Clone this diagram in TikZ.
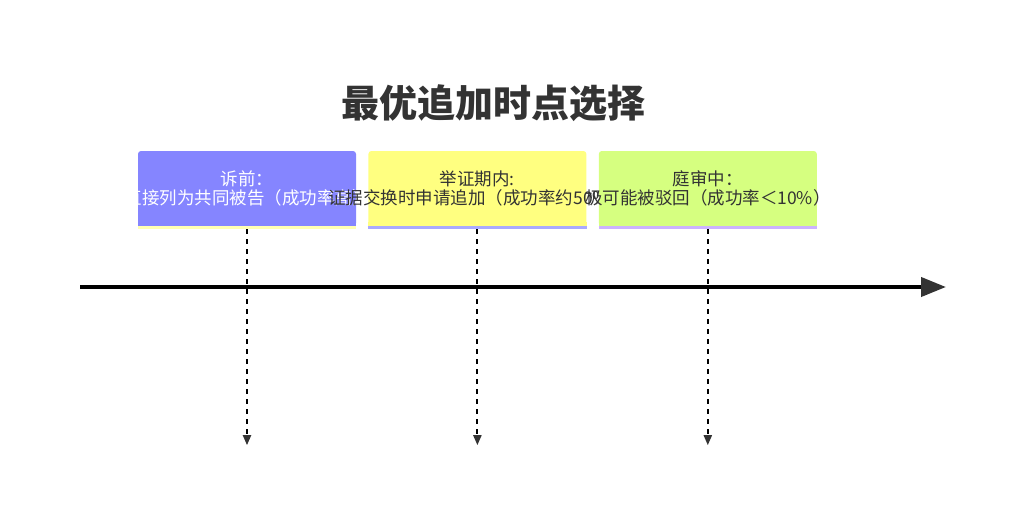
\documentclass[tikz,border=0pt]{standalone}
\usepackage{fontspec}
\setmainfont{Noto Sans CJK SC}
\usetikzlibrary{arrows.meta,positioning}
\definecolor{tlblue}{HTML}{8585FF}
\definecolor{tlyellow}{HTML}{FFFF80}
\definecolor{tlgreen}{HTML}{D6FF80}
\definecolor{tlstripeA}{HTML}{FFFFB3}
\definecolor{tlstripeB}{HTML}{AAAAFF}
\definecolor{tlstripeC}{HTML}{CCB3FF}
\definecolor{tldark}{HTML}{333333}
\tikzset{
  tl/box/.style={rectangle, rounded corners=3pt, minimum width=218pt, minimum height=75pt, inner sep=0pt, align=center, font=\fontsize{17.5}{19.5}\selectfont},
  tl/title/.style={font=\fontsize{38}{42}\selectfont\bfseries, text=tldark},
  tl/axis/.style={line width=4pt, -{Triangle[length=25pt,width=19pt,color=tldark]}},
  tl/drop/.style={line width=2pt, dash pattern=on 5pt off 5pt, -{Triangle[length=10pt,width=8pt,color=tldark]}}
}

\begin{document}
\begin{tikzpicture}[x=1pt, y=-1pt, node distance=12pt and 12pt]
  \useasboundingbox (0,0) rectangle (1024,525);

  % Title
  \node[tl/title] (title) at (493,103) {最优追加时点选择};

  % Stages
  \node[tl/box, fill=tlblue, text=white] (pre) at (247,188.5)
    {诉前：\\\makebox[0pt]{直接列为共同被告（成功率高）}};
  \node[tl/box, fill=tlyellow, text=tldark, right=of pre] (proof)
    {举证期内:\\\makebox[0pt]{证据交换时申请追加（成功率约50\%）}};
  \node[tl/box, fill=tlgreen, text=tldark, right=of proof] (trial)
    {庭审中：\\\makebox[0pt]{极可能被驳回（成功率＜10\%）}};

  \fill[tlblue] (pre.south west) rectangle ([yshift=4pt]pre.south east);
  \fill[tlyellow] (proof.south west) rectangle ([yshift=4pt]proof.south east);
  \fill[tlgreen] (trial.south west) rectangle ([yshift=4pt]trial.south east);
  \fill[tlstripeA] (pre.south west) rectangle ([yshift=-3pt]pre.south east);
  \fill[tlstripeB] (proof.south west) rectangle ([yshift=-3pt]proof.south east);
  \fill[tlstripeC] (trial.south west) rectangle ([yshift=-3pt]trial.south east);

  % Time axis
  \coordinate (axis-start) at (80,287);
  \coordinate (axis-end) at (946,287);
  \draw[tl/axis] (axis-start) -- (axis-end);

  % Drops
  \coordinate[below=219pt of pre.south] (pre-end);
  \coordinate[below=219pt of proof.south] (proof-end);
  \coordinate[below=219pt of trial.south] (trial-end);
  \draw[tl/drop] ([yshift=-3pt]pre.south) -- (pre-end);
  \draw[tl/drop] ([yshift=-3pt]proof.south) -- (proof-end);
  \draw[tl/drop] ([yshift=-3pt]trial.south) -- (trial-end);
\end{tikzpicture}
\end{document}
